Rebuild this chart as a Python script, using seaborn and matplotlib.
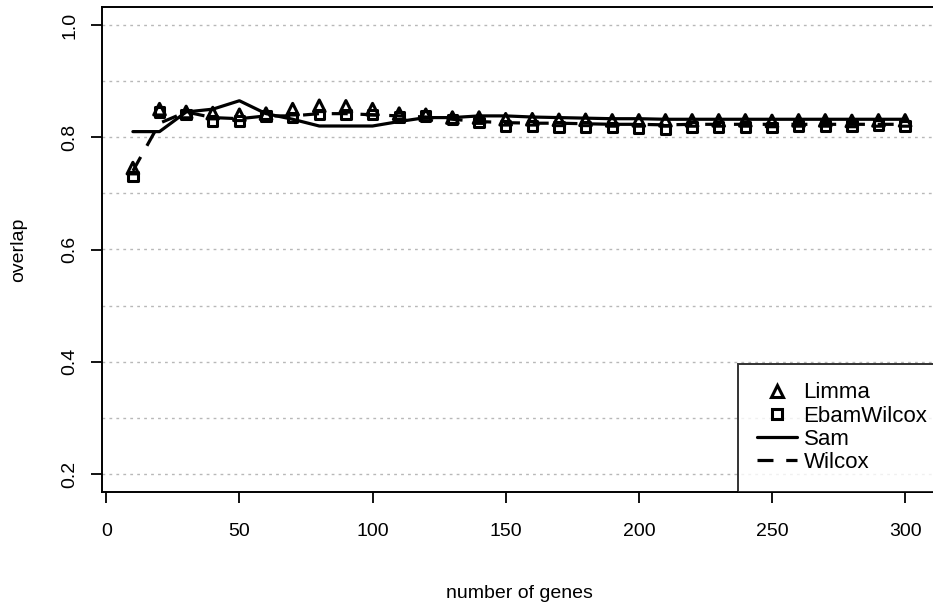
import numpy as np
import pandas as pd
import matplotlib
matplotlib.use("Agg")
import matplotlib.pyplot as plt
from matplotlib.lines import Line2D
import seaborn as sns

# data
genes = list(range(10, 310, 10))
limma = [0.745, 0.850, 0.845, 0.843, 0.840, 0.842, 0.850, 0.856, 0.855, 0.850,
         0.842, 0.840, 0.835, 0.835, 0.832, 0.832, 0.831, 0.831, 0.830, 0.830,
         0.830, 0.830, 0.830, 0.830, 0.829, 0.830, 0.830, 0.829, 0.830, 0.830]
ebam = [0.730, 0.845, 0.840, 0.829, 0.829, 0.838, 0.835, 0.840, 0.840, 0.840,
        0.836, 0.838, 0.832, 0.826, 0.820, 0.820, 0.818, 0.818, 0.817, 0.815,
        0.814, 0.818, 0.818, 0.818, 0.817, 0.820, 0.820, 0.820, 0.822, 0.820]
sam = [0.810, 0.810, 0.845, 0.850, 0.865, 0.842, 0.832, 0.820, 0.820, 0.820,
       0.828, 0.835, 0.835, 0.838, 0.838, 0.836, 0.835, 0.834, 0.833, 0.833,
       0.832, 0.832, 0.832, 0.832, 0.832, 0.832, 0.832, 0.832, 0.832, 0.832]
wilcox = [0.740, 0.825, 0.845, 0.835, 0.833, 0.838, 0.838, 0.842, 0.842, 0.840,
          0.838, 0.836, 0.832, 0.828, 0.826, 0.825, 0.825, 0.824, 0.823, 0.823,
          0.822, 0.823, 0.823, 0.823, 0.823, 0.823, 0.823, 0.823, 0.823, 0.823]

sns.set_style("white")
plt.rcParams['font.family'] = ['Liberation Sans', 'DejaVu Sans']
plt.rcParams['text.color'] = 'black'
plt.rcParams['axes.labelcolor'] = 'black'
plt.rcParams['xtick.color'] = 'black'
plt.rcParams['ytick.color'] = 'black'

fig = plt.figure(figsize=(9.33, 6.03), dpi=100)
# axes box runs past the right edge, as in the reference
ax = fig.add_axes([102 / 933, 1 - 492 / 603, (936 - 102) / 933, (492 - 7) / 603])

# dotted guide lines
for v in np.arange(0.2, 1.01, 0.1):
    ax.axhline(v, color='#b8b8b8', lw=1, ls=(0, (2, 3)), zorder=0)

lines_df = pd.DataFrame({'genes': genes * 2, 'overlap': sam + wilcox,
                         'method': ['Sam'] * len(genes) + ['Wilcox'] * len(genes)})
sns.lineplot(data=lines_df, x='genes', y='overlap', style='method',
             dashes={'Sam': '', 'Wilcox': (5, 4)}, color='black', lw=2.3,
             legend=False, ax=ax)

sns.scatterplot(x=genes, y=ebam, marker='s', s=45, facecolors='none',
                edgecolor='black', linewidth=2.2, ax=ax, zorder=3)
sns.scatterplot(x=genes, y=limma, marker='^', s=70, facecolors='none',
                edgecolor='black', linewidth=2.2, ax=ax, zorder=3)

ax.set_xlim(-1.6, 311.6)
ax.set_ylim(0.168, 1.032)
ax.set_xticks(range(0, 301, 50))
ax.set_yticks([0.2, 0.4, 0.6, 0.8, 1.0])
ax.set_yticklabels(['0.2', '0.4', '0.6', '0.8', '1.0'], rotation=90, va='center')
ax.tick_params(direction='out', length=8, width=1.3, labelsize=14,
               left=True, bottom=True)
ax.tick_params(axis='x', pad=14)
ax.tick_params(axis='y', pad=9)
for sp in ax.spines.values():
    sp.set_color('black')
    sp.set_linewidth(1.4)

ax.set_xlabel('number of genes', fontsize=14, labelpad=33)
ax.set_ylabel('overlap', fontsize=14, labelpad=25)

handles = [
    Line2D([], [], marker='^', ls='none', mfc='none', mec='black', mew=2.2, ms=8),
    Line2D([], [], marker='s', ls='none', mfc='none', mec='black', mew=2.2, ms=6.5),
    Line2D([], [], color='black', lw=2.3),
    Line2D([], [], color='black', lw=2.3, dashes=(5, 4)),
]
leg = ax.legend(handles, ['Limma', 'EbamWilcox', 'Sam', 'Wilcox'],
                loc='lower left', bbox_to_anchor=(738 / 933, 1 - 492 / 603),
                bbox_transform=fig.transFigure, borderaxespad=0, fontsize=16,
                frameon=True, fancybox=False, handlelength=1.8,
                handletextpad=0.3, labelspacing=0.1, borderpad=0.85)
leg.get_frame().set_edgecolor('black')
leg.get_frame().set_linewidth(1.4)

fig.savefig('out.png', dpi=100)
